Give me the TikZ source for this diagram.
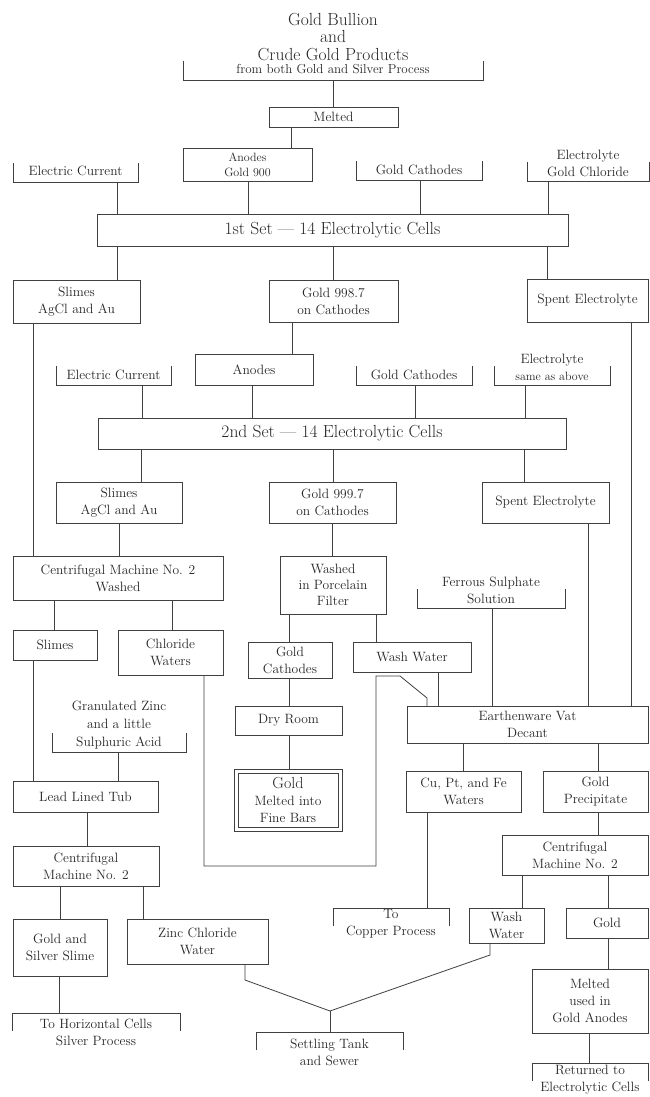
\documentclass[tikz,border=0pt]{standalone}
\usepackage{fontspec}
\usepackage{tikz}
\usetikzlibrary{calc}

\newcommand{\bodyfont}{\fontsize{13.5}{17}\selectfont}
\newcommand{\titlefont}{\fontsize{17.5}{17.5}\selectfont}
\newcommand{\setfont}{\fontsize{17.5}{20}\selectfont}
\newcommand{\smallfont}{\fontsize{12}{15}\selectfont}

\begin{document}
\begin{tikzpicture}[
  x=1pt, y=-1pt,
  wire/.style={draw=black!75, line width=0.8pt},
  box/.style={wire, inner sep=0pt, outer sep=0pt, align=center,
    font=\bodyfont, text=black!85},
  sz/.style 2 args={minimum width=#1pt, minimum height=#2pt},
  tray/.style={box, draw=none, append after command={
    \pgfextra{\draw[wire] ([yshift=19pt]\tikzlastnode.south west)
      -- (\tikzlastnode.south west) -- (\tikzlastnode.south east)
      -- ([yshift=19pt]\tikzlastnode.south east);}}},
  lid/.style={box, draw=none, append after command={
    \pgfextra{\draw[wire] ([yshift=-18pt]\tikzlastnode.north west)
      -- (\tikzlastnode.north west) -- (\tikzlastnode.north east)
      -- ([yshift=-18pt]\tikzlastnode.north east);}}},
  frame2/.style={box, append after command={
    \pgfextra{\draw[wire] ([shift={(4pt,-4pt)}]\tikzlastnode.north west)
      rectangle ([shift={(-4pt,4pt)}]\tikzlastnode.south east);}}}
]
\path[fill=white] (0,0) rectangle (650,1097);
\useasboundingbox (0,0) rectangle (650,1097);

% Source
\node[font=\titlefont, align=center, text=black!85] (title) at (333,37)
  {Gold Bullion\\and\\Crude Gold Products};
\node[tray, sz={300}{22}, font=\fontsize{13}{15}\selectfont] (src) at (333,69)
  {from both Gold and Silver Process};
\node[box, sz={129}{20}] (melt) at (333.5,117) {Melted};

% First set of cells
\node[tray, sz={125}{22}] (ec1) at (75.5,171) {Electric Current};
\node[box, sz={129}{33}, font=\smallfont] (ano1) at (247.5,164.5) {Anodes\\Gold 900};
\node[tray, sz={126}{21}] (gc1) at (419,169.5) {Gold Cathodes};
\node[tray, sz={122}{36}] (el1) at (588,163) {Electrolyte\\Gold Chloride};
\node[box, sz={471}{32}, font=\setfont] (set1) at (332.5,230)
  {1st Set --- 14 Electrolytic Cells};
\node[box, sz={127}{43}] (sl1) at (76.5,301.5) {Slimes\\AgCl and Au};
\node[box, sz={129}{42}] (g998) at (333.5,301) {Gold 998.7\\on Cathodes};
\node[box, sz={121}{43}] (sp1) at (587.5,300.5) {Spent Electrolyte};

% Second set of cells
\node[tray, sz={115}{20}] (ec2) at (113.5,375) {Electric Current};
\node[box, sz={118}{31}] (ano2) at (254,369.5) {Anodes};
\node[tray, sz={116}{20}] (gc2) at (414,375) {Gold Cathodes};
\node[tray, sz={116}{35}] (el2) at (552,367.5) {Electrolyte\\{\smallfont same as above}};
\node[box, sz={468}{31}, font=\setfont] (set2) at (332,433.5)
  {2nd Set --- 14 Electrolytic Cells};
\node[box, sz={126}{41}] (sl2) at (119,502.5) {Slimes\\AgCl and Au};
\node[box, sz={127}{41}] (g999) at (332.5,502.5) {Gold 999.7\\on Cathodes};
\node[box, sz={127}{41}] (sp2) at (545.5,502.5) {Spent Electrolyte};

% Slimes treatment
\node[box, sz={210}{44}] (cm1) at (118,578) {Centrifugal Machine No. 2\\Washed};
\node[box, sz={84}{30}] (sl3) at (55,645) {Slimes};
\node[box, sz={105}{45}] (chw) at (170.5,652.5) {Chloride\\Waters};
\node[tray, sz={134}{54}, font=\fontsize{13.5}{18}\selectfont] (gz) at (119,725)
  {Granulated Zinc\\and a little\\Sulphuric Acid};
\node[box, sz={145}{31}] (tub) at (85.5,796.5) {Lead Lined Tub};
\node[box, sz={146}{40}] (cm2) at (86,866) {Centrifugal\\Machine No. 2};
\node[box, sz={94}{57}] (gss) at (60,947.5) {Gold and\\Silver Slime};
\node[box, sz={141}{45}] (zcw) at (197.5,941.5) {Zinc Chloride\\Water};
\node[lid, sz={168}{38}] (hor) at (96,1032) {To Horizontal Cells\\Silver Process};
\node[lid, sz={147}{40}] (sett) at (329.5,1052) {Settling Tank\\and Sewer};

% Fine gold
\node[box, sz={106}{58}, font=\fontsize{13.5}{16}\selectfont] (wpf) at (333,585)
  {Washed\\in Porcelain\\Filter};
\node[box, sz={84}{36}] (gc3) at (290,660) {Gold\\Cathodes};
\node[box, sz={118}{30}] (ww1) at (412,657) {Wash Water};
\node[box, sz={107}{29}] (dry) at (288.5,720.5) {Dry Room};
\node[frame2, sz={108}{62}] (gbar) at (288,800)
  {{\fontsize{16}{17}\selectfont Gold}\\Melted into\\Fine Bars};

% Precipitation
\node[tray, sz={148}{35}] (fer) at (491,590.5) {Ferrous Sulphate\\Solution};
\node[box, sz={241}{37}] (vat) at (527.5,724.5) {Earthenware Vat\\Decant};
\node[box, sz={115}{41}] (cu) at (463.5,791.5) {Cu, Pt, and Fe\\Waters};
\node[box, sz={105}{41}] (gpr) at (595.5,791.5) {Gold\\Precipitate};
\node[box, sz={146}{40}] (cm3) at (575,855) {Centrifugal\\Machine No. 2};
\node[lid, sz={116}{32}] (cop) at (391,924) {To\\Copper Process};
\node[box, sz={75}{35}] (ww2) at (506.5,925.5) {Wash\\Water};
\node[box, sz={82}{30}] (gold) at (607,923) {Gold};
\node[box, sz={116}{64}] (mua) at (590,1001) {Melted\\used in\\Gold Anodes};
\node[lid, sz={116}{34}] (ret) at (590,1080) {Returned to\\Electrolytic Cells};

% Connectors, first set
\draw[wire] (src.south -| 333,0) -- (melt.north -| 333,0);
\draw[wire] (melt.south -| 291,0) -- (ano1.north -| 291,0);
\draw[wire] (ec1.south -| 117,0) -- (set1.north -| 117,0);
\draw[wire] (ano1.south -| 248,0) -- (set1.north -| 248,0);
\draw[wire] (gc1.south -| 420,0) -- (set1.north -| 420,0);
\draw[wire] (el1.south -| 548,0) -- (set1.north -| 548,0);
\draw[wire] (set1.south -| 117,0) -- (sl1.north -| 117,0);
\draw[wire] (set1.south -| 333,0) -- (g998.north -| 333,0);
\draw[wire] (set1.south -| 547,0) -- (sp1.north -| 547,0);

% Connectors, second set
\draw[wire] (g998.south -| 292,0) -- (ano2.north -| 292,0);
\draw[wire] (ec2.south -| 142,0) -- (set2.north -| 142,0);
\draw[wire] (ano2.south -| 252,0) -- (set2.north -| 252,0);
\draw[wire] (gc2.south -| 415,0) -- (set2.north -| 415,0);
\draw[wire] (el2.south -| 525,0) -- (set2.north -| 525,0);
\draw[wire] (set2.south -| 141,0) -- (sl2.north -| 141,0);
\draw[wire] (set2.south -| 333,0) -- (g999.north -| 333,0);
\draw[wire] (set2.south -| 524,0) -- (sp2.north -| 524,0);

% Slimes
\draw[wire] (sl1.south -| 33,0) -- (cm1.north -| 33,0);
\draw[wire] (sl2.south -| 119,0) -- (cm1.north -| 119,0);
\draw[wire] (cm1.south -| 54,0) -- (sl3.north -| 54,0);
\draw[wire] (cm1.south -| 172,0) -- (chw.north -| 172,0);
\draw[wire] (sl3.south -| 33,0) -- (tub.north -| 33,0);
\draw[wire] (gz.south -| 118,0) -- (tub.north -| 118,0);
\draw[wire] (tub.south -| 87,0) -- (cm2.north -| 87,0);
\draw[wire] (cm2.south -| 60,0) -- (gss.north -| 60,0);
\draw[wire] (cm2.south -| 143,0) -- (zcw.north -| 143,0);
\draw[wire] (gss.south -| 59,0) -- (hor.north -| 59,0);

% Gold
\draw[wire] (g999.south -| 332,0) -- (wpf.north -| 332,0);
\draw[wire] (wpf.south -| 289,0) -- (gc3.north -| 289,0);
\draw[wire] (wpf.south -| 376,0) -- (ww1.north -| 376,0);
\draw[wire] (gc3.south -| 289,0) -- (dry.north -| 289,0);
\draw[wire] (dry.south -| 289,0) -- (gbar.north -| 289,0);

% Into the vat
\draw[wire] (ww1.south -| 438,0) -- (vat.north -| 438,0);
\draw[wire] (fer.south -| 492,0) -- (vat.north -| 492,0);
\draw[wire] (sp2.south -| 588,0) -- (vat.north -| 588,0);
\draw[wire] (sp1.south -| 631,0) -- (vat.north -| 631,0);
\draw[wire] (chw.south -| 204,0) -- (204,866) -- (376,866) -- (376,676)
  -- (400,676) -- (427,698) -- (vat.north -| 427,0);

% Out of the vat
\draw[wire] (vat.south -| 463,0) -- (cu.north -| 463,0);
\draw[wire] (vat.south -| 598,0) -- (gpr.north -| 598,0);
\draw[wire] (gpr.south -| 598,0) -- (cm3.north -| 598,0);
\draw[wire] (cu.south -| 427,0) -- (cop.north -| 427,0);
\draw[wire] (cm3.south -| 522,0) -- (ww2.north -| 522,0);
\draw[wire] (cm3.south -| 608,0) -- (gold.north -| 608,0);
\draw[wire] (gold.south -| 608,0) -- (mua.north -| 608,0);
\draw[wire] (mua.south -| 589,0) -- (ret.north -| 589,0);

% Sewer
\coordinate (jn) at (330,1011);
\draw[wire] (zcw.south -| 245,0) -- (245,980) -- (jn);
\draw[wire] (ww2.south -| 490,0) -- (490,955) -- (jn);
\draw[wire] (jn) -- (sett.north -| 330,0);

\end{tikzpicture}
\end{document}
